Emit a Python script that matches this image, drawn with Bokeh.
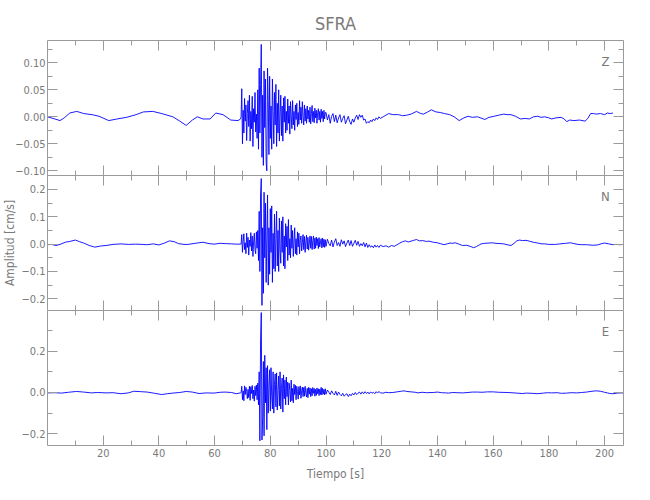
import numpy as np
from bokeh.plotting import figure
from bokeh.layouts import column
from bokeh.models import LinearAxis, FixedTicker, Range1d, Label, CustomJSTickFormatter
from bokeh.embed import file_html
from bokeh.resources import INLINE

# ---------------- data ----------------
station = "SFRA"
components = ["Z", "N", "E"]

busy_t0, busy_dt = 69.5, 0.25      # sampling of the strong-motion part
coda_t0, coda_dt = 100.0, 0.5      # sampling of the coda part

# --- Z component
z_pre_t = [0, 2, 4.5, 6, 8, 10.5, 13, 16, 18.5, 22, 25, 28.4, 31.8, 34.4, 37.8, 41, 45,
           47.5, 49.8, 52, 53.8, 55.8, 58.4, 60.4, 63, 65.8, 68.4, 69.3]
z_pre_v = [0.000, -0.003, -0.007, -0.002, 0.007, 0.010, 0.006, 0.004, 0.001, -0.007, -0.004,
           -0.001, 0.004, 0.009, 0.010, 0.006, 0.000, -0.008, -0.016, -0.006, 0.000, -0.004,
           -0.004, 0.007, 0.004, -0.006, -0.007, -0.004]
z_busy_v = [0.000, 0.052, -0.050, 0.012, -0.030, 0.034, -0.008, 0.022, -0.044, 0.006,
            0.030, -0.018, 0.040, -0.045, 0.010, -0.022, 0.038, -0.055, 0.015, -0.010,
            0.045, -0.028, 0.005, -0.040, 0.050, -0.060, 0.090, -0.030, 0.060, 0.134,
            -0.075, 0.040, -0.090, 0.085, -0.020, 0.070, -0.085, -0.100, 0.090, 0.030,
            -0.070, 0.075, -0.040, 0.020, -0.060, 0.070, 0.010, -0.050, 0.045, -0.015,
            0.060, -0.055, 0.025, -0.030, 0.050, -0.045, 0.005, 0.040, -0.035, 0.020,
            -0.045, 0.035, -0.010, 0.038, -0.030, 0.010, -0.025, 0.033, -0.012, 0.020,
            -0.032, 0.028, 0.002, -0.022, 0.030, -0.015, 0.010, -0.025, 0.022, -0.005,
            0.025, -0.018, 0.008, -0.014, 0.030, -0.006, 0.018, -0.012, 0.028, 0.000,
            -0.015, 0.022, -0.008, 0.015, -0.012, 0.020, -0.004, 0.012, -0.010, 0.018,
            -0.013, 0.006, 0.021, -0.009, 0.010, -0.011, 0.016, -0.002, 0.012, -0.012,
            0.008, 0.015, -0.006, 0.010, -0.010, 0.014, -0.003, 0.010, -0.009, 0.012,
            -0.004, 0.008]
z_coda_v = [0.008, -0.006, 0.004, -0.012, 0.001, 0.006, -0.009, 0.003, -0.011, -0.002,
            0.004, -0.010, -0.003, 0.002, -0.013, -0.006, 0.001, -0.009, -0.014, -0.004,
            -0.010, -0.002, 0.003, -0.005, 0.004, -0.001, 0.003, -0.006, -0.004, -0.012,
            -0.009, -0.011, -0.006, -0.009, -0.004, -0.007, -0.002, -0.005, 0.000, -0.003]
z_post_t = [120.5, 122.5, 124, 126, 127.5, 129, 130.5, 132.5, 134, 135, 136.5, 137.8, 139.5,
            141, 142.5, 144.4, 146, 147.8, 149.5, 151, 152.5, 154.4, 156, 157, 158.5, 160.4,
            162, 163.8, 165, 166.4, 168, 169.8, 171.5, 173, 174.5, 176, 177.2, 178.5, 180,
            181, 182.5, 184.4, 185.5, 186.4, 187.5, 189, 191, 193, 194, 195, 196, 197, 198.5,
            200, 201, 202, 203]
z_post_v = [0.000, 0.006, 0.004, 0.004, 0.002, 0.003, 0.005, 0.010, 0.006, 0.005, 0.009,
            0.013, 0.009, 0.008, 0.006, 0.004, 0.000, -0.007, -0.002, 0.001, -0.001, 0.000,
            -0.003, -0.005, -0.001, 0.001, 0.003, 0.005, 0.004, 0.004, 0.001, -0.004, -0.003,
            -0.004, 0.000, 0.001, -0.001, 0.000, -0.002, -0.004, -0.002, -0.001, -0.004,
            -0.009, -0.006, -0.007, -0.006, -0.008, -0.003, 0.006, 0.006, 0.005, 0.006,
            0.004, 0.007, 0.006, 0.007]

# --- N component
n_pre_t = [0, 1.5, 3, 4.5, 6.4, 8, 10, 11.5, 13, 15, 17, 19, 21, 23.5, 26.4, 29, 31.7, 34,
           35.8, 38, 40, 42, 43.8, 45.5, 47, 49, 50.4, 53, 55.8, 58, 59.8, 62, 63.8, 66,
           67.8, 69.3]
n_pre_v = [-0.002, -0.001, -0.005, -0.001, 0.007, 0.010, 0.015, 0.009, 0.004, -0.005,
           -0.011, -0.007, -0.005, -0.001, 0.001, -0.001, 0.000, -0.001, -0.002, 0.001,
           -0.003, 0.004, 0.012, 0.009, 0.002, -0.001, -0.001, 0.003, 0.007, 0.002, 0.000,
           0.003, 0.002, 0.001, 0.000, 0.000]
n_busy_v = [0.000, 0.035, -0.030, 0.010, 0.038, -0.020, 0.005, -0.035, 0.040, -0.012,
            0.025, -0.040, 0.015, -0.008, 0.042, -0.025, 0.030, -0.045, 0.008, 0.040,
            -0.020, -0.035, 0.045, -0.015, 0.050, -0.060, 0.120, -0.100, 0.180, 0.240,
            -0.224, 0.060, -0.180, 0.190, -0.050, 0.150, -0.140, 0.020, 0.180, -0.150,
            0.060, -0.110, 0.130, -0.030, 0.140, -0.140, 0.040, -0.090, 0.110, -0.100,
            0.020, 0.120, -0.080, 0.050, -0.100, 0.095, -0.020, -0.070, 0.085, -0.030,
            0.100, -0.080, 0.030, -0.090, 0.075, -0.010, 0.065, -0.060, 0.090, -0.040,
            0.020, -0.050, 0.070, -0.015, 0.050, -0.045, 0.010, 0.060, -0.035, 0.020,
            -0.040, 0.045, -0.010, 0.040, -0.035, 0.015, 0.030, -0.025, 0.005, 0.035,
            -0.020, 0.028, -0.030, 0.010, 0.033, -0.018, 0.025, -0.022, 0.004, 0.030,
            -0.015, 0.028, -0.020, 0.012, 0.030, -0.018, 0.022, -0.015, 0.026, -0.005,
            0.020, -0.016, 0.024, -0.010, 0.008, 0.020, -0.014, 0.022, -0.010, 0.018,
            -0.012, 0.016]
n_coda_v = [-0.008, 0.018, 0.002, -0.006, 0.015, -0.010, 0.008, 0.020, -0.005, 0.006,
            -0.008, 0.016, 0.000, 0.012, -0.009, 0.004, 0.015, -0.005, 0.013, -0.008,
            0.003, 0.014, -0.004, 0.010, -0.008, 0.002, -0.006, 0.006, -0.010, 0.004,
            -0.012, -0.002, -0.011, -0.006, -0.013, -0.003, -0.011, -0.005, -0.012, -0.004]
n_post_t = [120.5, 121.5, 122.5, 123.5, 124.5, 125.5, 126.5, 127.5, 128.5, 129.5, 130.5,
            131.5, 132.5, 133.5, 134.7, 136, 137, 138.5, 140, 141, 142.4, 143.5, 144.5,
            145.5, 146.4, 147.5, 149, 150.5, 152, 153, 154, 155, 155.7, 157, 158.5, 159.7,
            161, 162.5, 163.8, 165, 166.4, 167.5, 168.5, 169.5, 170.5, 171.8, 173, 174.4,
            176, 177.5, 178.5, 180, 181.5, 182.4, 184, 186, 187.8, 189, 190.5, 191.8, 193.5,
            195.8, 197.5, 199, 200, 201.5, 203, 204, 205.5, 207]
n_post_v = [-0.009, -0.006, -0.011, -0.005, -0.008, -0.002, 0.004, 0.009, 0.012, 0.008,
            0.011, 0.014, 0.017, 0.012, 0.013, 0.010, 0.011, 0.007, 0.005, 0.002, -0.002,
            0.001, 0.004, 0.003, 0.005, 0.001, -0.005, -0.004, -0.009, -0.013, -0.009,
            -0.003, 0.001, 0.003, 0.004, 0.005, 0.003, 0.002, 0.001, -0.002, -0.005, 0.003,
            0.012, 0.015, 0.013, 0.014, 0.011, 0.007, 0.004, 0.001, 0.001, -0.001, -0.001,
            -0.001, 0.001, 0.003, 0.005, 0.002, -0.001, -0.002, -0.002, -0.004, -0.003,
            0.002, 0.004, 0.001, -0.002, -0.001, -0.002, -0.001]

# --- E component
e_pre_t = [0, 2.5, 5, 7.5, 10.4, 13, 15.8, 18, 21, 23.5, 26.4, 29, 31, 33.5, 35.8, 38.5, 41,
           43, 45, 47.5, 49.8, 52, 54.4, 57, 59.8, 62, 63.8, 66, 67.8, 69.3]
e_pre_v = [-0.002, -0.001, -0.003, 0.001, 0.005, 0.002, -0.002, 0.000, -0.002, -0.001,
           -0.006, -0.002, 0.006, 0.004, 0.002, -0.004, -0.010, -0.006, -0.003, 0.000,
           0.005, 0.002, -0.005, -0.002, -0.003, 0.001, 0.002, 0.000, -0.006, -0.002]
e_busy_v = [0.000, 0.030, -0.035, 0.008, -0.040, 0.032, -0.010, 0.025, 0.005, -0.030,
            0.015, -0.025, 0.030, -0.038, 0.028, -0.005, 0.034, -0.030, 0.012, -0.042,
            0.030, -0.015, 0.036, -0.035, 0.045, -0.060, 0.100, -0.234, 0.250, 0.387,
            -0.230, -0.120, 0.150, -0.210, 0.180, -0.050, 0.120, -0.180, 0.130, -0.100,
            0.030, 0.110, -0.090, 0.120, -0.020, -0.080, 0.100, -0.100, 0.040, 0.090,
            -0.070, 0.095, -0.085, 0.010, 0.080, -0.065, 0.100, -0.080, 0.020, 0.070,
            -0.095, 0.085, -0.030, 0.060, -0.060, 0.075, -0.020, 0.050, -0.060, 0.045,
            0.010, -0.045, 0.060, -0.040, 0.020, -0.050, 0.040, -0.010, 0.035, -0.035,
            0.030, 0.005, -0.032, 0.028, -0.012, 0.032, -0.028, 0.010, 0.026, -0.020,
            0.024, -0.018, 0.030, -0.005, -0.022, 0.020, -0.025, 0.025, -0.008, 0.022,
            -0.020, 0.018, -0.016, 0.024, -0.004, 0.020, -0.018, 0.015, -0.014, 0.022,
            -0.006, 0.018, -0.015, 0.016, -0.010, 0.025, -0.012, 0.020, -0.008, 0.015,
            -0.012, 0.018]
e_coda_v = [-0.008, 0.012, 0.001, -0.010, 0.008, -0.004, -0.012, 0.006, -0.014, 0.002,
            -0.009, -0.016, -0.004, -0.018, -0.010, -0.006, -0.020, -0.008, -0.016, -0.004,
            -0.012, 0.000, -0.010, -0.003, 0.002, -0.008, 0.003, -0.006, 0.004, -0.005,
            0.002, -0.007, 0.003, -0.004, 0.001, -0.006, 0.004, -0.003, 0.005, -0.002]
e_post_t = [120.5, 121.5, 122.5, 124, 125.5, 127, 128, 129, 130.5, 132, 133, 134.5, 136,
            138.5, 140, 141.5, 143, 144, 145.5, 147, 149, 151, 152.5, 154.4, 156, 158, 160,
            162, 165, 167.5, 170.4, 172, 174, 176, 178, 179.5, 181, 183, 184.5, 186.4, 188,
            190, 191.8, 193.5, 195.5, 197, 198.5, 200, 201, 202, 203, 204.5, 206, 207]
e_post_v = [-0.003, 0.001, -0.001, 0.000, 0.003, 0.006, 0.008, 0.005, 0.003, 0.001, -0.002,
            0.001, -0.001, 0.000, 0.002, -0.001, -0.002, -0.003, 0.000, -0.001, -0.002,
            0.000, 0.002, 0.002, 0.001, 0.003, 0.003, 0.001, 0.000, -0.002, -0.005, -0.003,
            -0.004, -0.006, -0.003, -0.001, -0.002, -0.001, -0.004, -0.003, -0.001, -0.002,
            0.000, 0.002, 0.006, 0.008, 0.006, 0.001, -0.002, -0.005, -0.006, -0.003,
            -0.002, -0.003]

# axes
x_start, x_end = 0.0, 206.8
x_major = [20, 40, 60, 80, 100, 120, 140, 160, 180, 200]
x_minor = [10, 30, 50, 70, 90, 110, 130, 150, 170, 190]

y_ranges = [(-0.1087, 0.1413), (-0.2428, 0.2512), (-0.2567, 0.397)]
y_major = [[-0.10, -0.05, 0.0, 0.05, 0.10], [-0.2, -0.1, 0.0, 0.1, 0.2], [-0.2, 0.0, 0.2]]
y_minor = [[-0.075, -0.025, 0.025, 0.075, 0.125], [-0.15, -0.05, 0.05, 0.15, 0.25],
           [-0.1, 0.1, 0.3]]
y_labels = [["\u22120.10", "\u22120.05", "0.00", "0.05", "0.10"],
            ["\u22120.2", "\u22120.1", "0.0", "0.1", "0.2"],
            ["\u22120.2", "0.0", "0.2"]]
comp_label_y = [0.1025, 0.1746, 0.294]
y_title = "Amplitud [cm/s]"
x_title = "Tiempo [s]"

# ---------------- styling ----------------
FONT = "DejaVu Sans Condensed, Roboto, sans-serif"
TXT = "#7a7a7a"
AX = "#9a9a9a"
TRACE = "#0000ff"
OVERLAP = 5   # panel 1 canvas reaches a little under panel 2 so its last tick label is not clipped


def series(pre_t, pre_v, busy_v, coda_v, post_t, post_v):
    bt = busy_t0 + busy_dt * np.arange(len(busy_v))
    ct = coda_t0 + coda_dt * np.arange(len(coda_v))
    t = np.concatenate([pre_t, bt, ct, post_t])
    v = np.concatenate([pre_v, busy_v, coda_v, post_v])
    return t, v


traces = [
    series(z_pre_t, z_pre_v, z_busy_v, z_coda_v, z_post_t, z_post_v),
    series(n_pre_t, n_pre_v, n_busy_v, n_coda_v, n_post_t, n_post_v),
    series(e_pre_t, e_pre_v, e_busy_v, e_coda_v, e_post_t, e_post_v),
]

xr = Range1d(x_start, x_end)


def style_axis(ax, show_labels):
    ax.axis_line_color = AX
    ax.major_tick_line_color = AX
    ax.minor_tick_line_color = AX
    ax.major_tick_in = 10
    ax.major_tick_out = 0
    ax.minor_tick_in = 5
    ax.minor_tick_out = 0
    ax.major_label_text_font = FONT
    ax.major_label_text_color = TXT
    ax.major_label_text_font_size = "11px"
    if show_labels:
        ax.major_label_standoff = 2
    else:
        ax.formatter = CustomJSTickFormatter(code="return ''")
        ax.major_label_standoff = 0


figs = []
for i in range(3):
    first = i == 0
    last = i == 2
    kw = dict(title=station) if first else {}
    if i == 1:
        kw["margin"] = (-OVERLAP, 0, 0, 0)
    p = figure(frame_width=576, frame_height=135, x_range=xr,
               y_range=Range1d(*y_ranges[i]), output_backend="svg",
               toolbar_location=None, x_axis_location=None, y_axis_location=None,
               min_border_left=47, min_border_right=3,
               min_border_top=40 if first else 0,
               min_border_bottom=OVERLAP if first else 0, **kw)
    p.grid.visible = False
    p.outline_line_color = None
    p.background_fill_color = None
    p.border_fill_color = None
    if first:
        p.title.align = "center"
        p.title.text_font = FONT
        p.title.text_font_size = "18px"
        p.title.text_font_style = "normal"
        p.title.text_color = TXT
        p.title.standoff = 14

    yt = FixedTicker(ticks=y_major[i], minor_ticks=y_minor[i])
    xt = FixedTicker(ticks=x_major, minor_ticks=x_minor)

    left = LinearAxis(ticker=yt)
    style_axis(left, True)
    left.major_label_overrides = {float(k): s for k, s in zip(y_major[i], y_labels[i])}
    if i == 1:
        left.axis_label = y_title
        left.axis_label_text_font = FONT
        left.axis_label_text_font_size = "12px"
        left.axis_label_text_font_style = "normal"
        left.axis_label_text_color = TXT
        left.axis_label_standoff = 1
    p.add_layout(left, "left")

    right = LinearAxis(ticker=yt)
    style_axis(right, False)
    p.add_layout(right, "right")

    top = LinearAxis(ticker=xt)
    style_axis(top, False)
    p.add_layout(top, "above")

    bottom = LinearAxis(ticker=xt)
    style_axis(bottom, last)
    if last:
        bottom.major_label_standoff = 3
        bottom.axis_label = x_title
        bottom.axis_label_text_font = FONT
        bottom.axis_label_text_font_size = "12px"
        bottom.axis_label_text_font_style = "normal"
        bottom.axis_label_text_color = TXT
        bottom.axis_label_standoff = 7
    p.add_layout(bottom, "below")

    t, v = traces[i]
    p.line(t, v, line_color=TRACE, line_width=0.9)

    p.add_layout(Label(x=200.3, y=comp_label_y[i], text=components[i],
                       text_align="center", text_baseline="middle",
                       text_font=FONT, text_font_size="13px", text_color=TXT))
    figs.append(p)

layout = column(*figs, spacing=0)
open("out.html", "w").write(file_html(layout, INLINE))
